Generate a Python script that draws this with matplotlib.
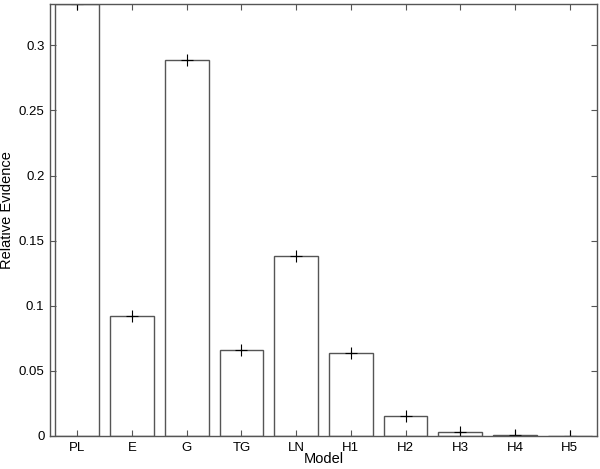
import matplotlib
matplotlib.use("Agg")
import matplotlib.pyplot as plt
from matplotlib.ticker import FuncFormatter

models = ["PL", "E", "G", "TG", "LN", "H1", "H2", "H3", "H4", "H5"]
evidence = [0.3318, 0.0918, 0.2885, 0.0662, 0.1385, 0.0641, 0.0154, 0.0033, 0.0010, 0.0003]
errors = [0.0008, 0.0008, 0.0008, 0.0008, 0.0008, 0.0008, 0.0008, 0.0008, 0.0008, 0.0008]
yticks = [0, 0.05, 0.1, 0.15, 0.2, 0.25, 0.3]

plt.rcParams['font.family'] = ['Liberation Sans', 'DejaVu Sans']
edge = '#555555'

fig = plt.figure(figsize=(6, 4.69), dpi=100)
ax = fig.add_axes([0.0833, 0.0704, 0.9117, 0.9211])

x = list(range(1, len(models) + 1))
ax.bar(x, evidence, width=0.8, facecolor='white', edgecolor=edge, linewidth=1.0)
ax.errorbar(x, evidence, yerr=errors, fmt='+', color='black', markersize=9,
            markeredgewidth=0.8, elinewidth=0.8, capsize=0)

ax.set_xlim(0.5, len(models) + 0.5)
ax.set_ylim(0, evidence[0])
ax.set_xticks(x)
ax.set_xticklabels(models)
ax.set_yticks(yticks)
ax.yaxis.set_major_formatter(FuncFormatter(lambda v, p: f"{v:g}"))
ax.tick_params(direction='in', top=True, right=True, length=4, width=0.8,
               color=edge, labelsize=9.5, pad=4)
for s in ax.spines.values():
    s.set_color(edge)
    s.set_linewidth(1.0)

ax.set_xlabel("Model", fontsize=10.5)
ax.xaxis.set_label_coords(0.5, -0.054)
ax.xaxis.label.set_va('center')
ax.set_ylabel("Relative Evidence", fontsize=10.5)
ax.yaxis.set_label_coords(-0.066, 0.523)

fig.savefig("out.png", dpi=100)
